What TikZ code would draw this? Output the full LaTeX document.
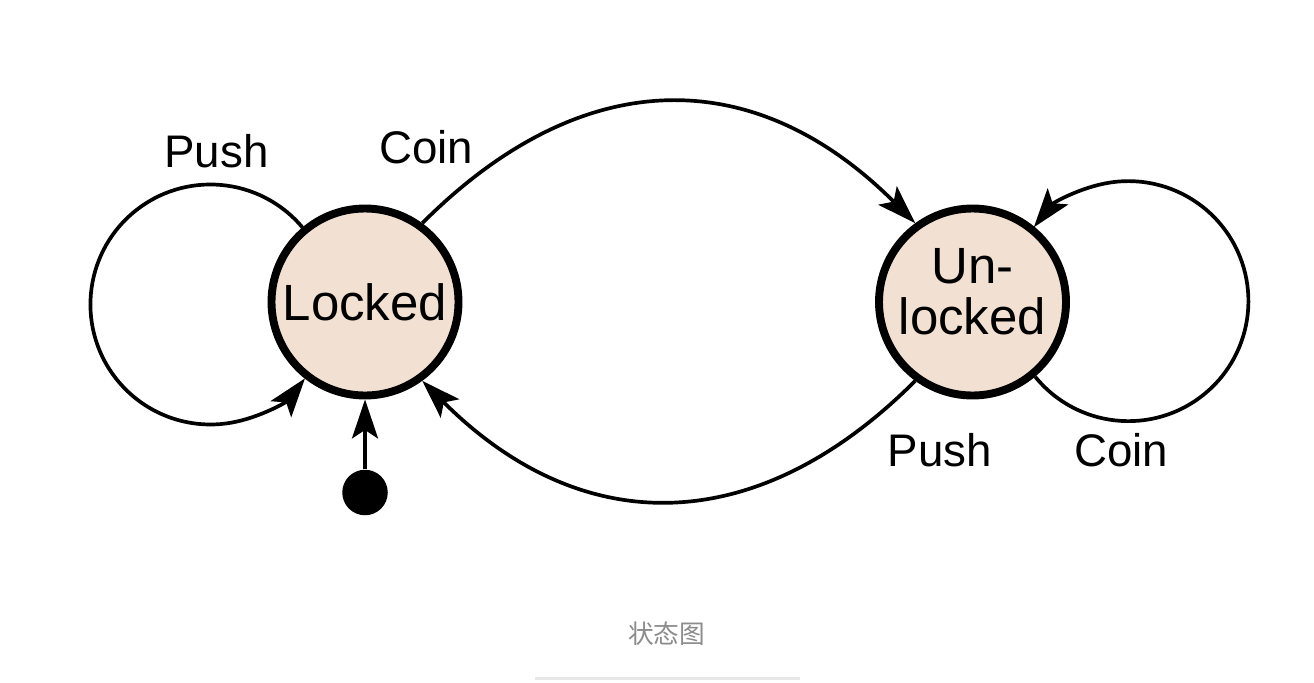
\documentclass[tikz,border=0pt]{standalone}
\usepackage{fontspec}
\setmainfont{Liberation Sans}
\newfontfamily\cjk{Noto Sans CJK SC}
\usetikzlibrary{arrows.meta}
\definecolor{statefill}{RGB}{242,225,210}
\definecolor{captiongray}{RGB}{140,140,140}
\definecolor{rulegray}{RGB}{232,232,232}

\begin{document}
\begin{tikzpicture}[
    state/.style={circle, draw=black, line width=4.5pt, fill=statefill, minimum size=3.74cm, inner sep=0pt, align=center, font=\fontsize{29}{29.5}\selectfont},
    trans/.style={line width=2.1pt, -{Stealth[length=0.78cm, width=0.52cm, inset=0.17cm]}},
    lbl/.style={anchor=base, font=\fontsize{26}{26}\selectfont}
]
    % Canvas
    \path[use as bounding box, fill=white] (0,0) rectangle (26.28,13.64);

    % States
    \node[state] (locked) at (7.3,7.6) {Locked};
    \node[state, text depth=0.42cm] (unlocked) at (19.45,7.6) {Un-\\locked};

    % Initial state
    \node[circle, fill=black, minimum size=0.91cm, inner sep=0pt] (init) at (7.3,3.79) {};
    \draw[trans] (init) -- (locked);

    % Self-loops
    \draw[trans] (locked.130) arc[start angle=40, end angle=322, radius=2.4cm];
    \draw[trans] (unlocked.-50) arc[start angle=219, end angle=502, radius=2.4cm];

    % Transitions between the states
    \draw[trans] (locked.54) to[out=45, in=135, looseness=1.18] (unlocked.126);
    \draw[trans] (unlocked.234) to[out=-135, in=-45, looseness=1.17] (locked.306);

    % Labels
    \node[lbl] (pushlocked) at (4.33,10.30) {Push};
    \node[lbl] (coinlocked) at (8.52,10.38) {Coin};
    \node[lbl] (pushunlocked) at (18.80,4.32) {Push};
    \node[lbl] (coinunlocked) at (22.42,4.32) {Coin};

    % Caption
    \node[font=\cjk\fontsize{14.6}{14.6}\selectfont, text=captiongray] (caption) at (13.33,0.96) {状态图};
    \draw[rulegray, line width=0.06cm] (10.70,0.08) -- (16.00,0.08);
\end{tikzpicture}
\end{document}
